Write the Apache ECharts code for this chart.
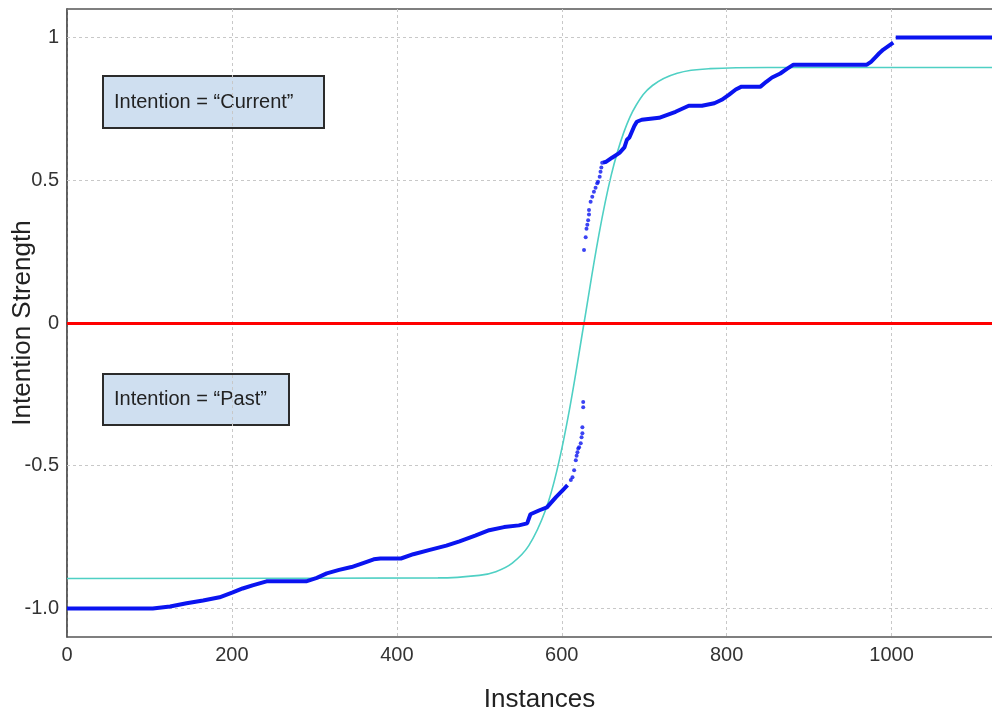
<!DOCTYPE html>
<html>
<head>
<meta charset="utf-8">
<script src="https://cdn.jsdelivr.net/npm/echarts@6/dist/echarts.min.js"></script>
<style>html,body{margin:0;padding:0;background:#fff;}#c{width:992px;height:715px;}</style>
</head>
<body>
<div id="c"></div>
<script>
// ---- data ----
var xTickLabels = [0, 200, 400, 600, 800, 1000];
var yTickLabels = [-1.0, -0.5, 0, 0.5, 1];
var gridYValues = [-1.0, -0.5, 0.5, 1];
var zeroLineY = 0;

var blueLower = [[0,-1.0],[104,-1.0],[125,-0.993],[145,-0.982],[165,-0.972],[185,-0.961],[201,-0.944],[213,-0.93],[225,-0.919],[242,-0.905],[290,-0.905],[303,-0.893],[315,-0.877],[330,-0.865],[345,-0.855],[360,-0.84],[372,-0.828],[380,-0.825],[405,-0.825],[420,-0.81],[440,-0.795],[460,-0.78],[476,-0.765],[495,-0.745],[512,-0.726],[530,-0.715],[548,-0.709],[558,-0.702],[562,-0.67],[573,-0.656],[582,-0.646],[593,-0.61],[601,-0.586],[607,-0.568]];
var blueDots = [[611,-0.55],[613,-0.54],[615,-0.516],[617,-0.481],[618,-0.465],[619,-0.453],[620,-0.44],[621,-0.435],[623,-0.421],[624,-0.40],[625,-0.386],[625,-0.365],[626,-0.295],[626,-0.277],[627,0.256],[629,0.30],[630,0.33],[631,0.344],[632,0.36],[633,0.38],[633,0.396],[635,0.425],[637,0.442],[639,0.46],[641,0.474],[643,0.49],[644,0.495],[646,0.512],[647,0.53],[648,0.545],[649,0.561]];
var blueUpper = [[650,0.562],[654,0.565],[661,0.579],[670,0.596],[676,0.615],[679,0.642],[682,0.65],[685,0.67],[688,0.69],[691,0.705],[697,0.712],[718,0.719],[738,0.74],[754,0.761],[770,0.761],[785,0.77],[794,0.782],[803,0.80],[811,0.818],[818,0.828],[841,0.828],[848,0.845],[855,0.86],[865,0.874],[873,0.89],[881,0.905],[970,0.905],[975,0.915],[980,0.93],[985,0.945],[990,0.958],[996,0.97],[1002,0.982]];
var blueTop = [[1005,1.0],[1146,1.0]];
var tealFit = [[0,-0.895],[450,-0.893],[500,-0.884],[520,-0.871],[540,-0.841],[560,-0.78],[580,-0.658],[595,-0.506],[610,-0.293],[627,0],[645,0.309],[660,0.518],[675,0.666],[690,0.762],[710,0.832],[740,0.875],[780,0.891],[850,0.895],[1146,0.895]];

var boxes = [
  {text: 'Intention = \u201CCurrent\u201D', x: 102, y: 75, w: 221, h: 52},
  {text: 'Intention = \u201CPast\u201D', x: 102, y: 373, w: 186, h: 51}
];

var FONT = 'Liberation Sans, Arial, sans-serif';
var chart = echarts.init(document.getElementById('c'), null, {renderer: 'canvas'});

function isTick(v, list) {
  for (var i = 0; i < list.length; i++) if (Math.abs(v - list[i]) < 1e-6) return true;
  return false;
}

var graphics = [];
boxes.forEach(function (b) {
  graphics.push({
    type: 'group', left: b.x, top: b.y, z: 100,
    children: [
      {type: 'rect', shape: {x: 0, y: 0, width: b.w, height: b.h},
       style: {fill: '#cfdff0', stroke: '#2b2b2b', lineWidth: 2}},
      {type: 'text', x: 11, y: b.h / 2,
       style: {text: b.text, fill: '#222', font: '20px ' + FONT, textVerticalAlign: 'middle', verticalAlign: 'middle'}}
    ]
  });
});

chart.setOption({
  animation: false,
  backgroundColor: '#fff',
  grid: {left: 67, right: -20, top: 9, bottom: 78, containLabel: false, outerBoundsMode: 'none',
         show: true, borderColor: '#555', borderWidth: 1.5, backgroundColor: 'transparent'},
  xAxis: {
    type: 'value', min: 0, max: 1146, interval: 200,
    name: 'Instances', nameLocation: 'middle', nameGap: 50, nameMoveOverlap: false,
    nameTextStyle: {fontSize: 26, color: '#222', fontFamily: FONT},
    axisLine: {show: true, lineStyle: {color: '#555', width: 1.5}},
    axisTick: {show: false},
    axisLabel: {fontSize: 20, color: '#333', fontFamily: FONT, margin: 8, showMaxLabel: false,
      formatter: function (v) { return isTick(v, xTickLabels) ? String(v) : ''; }},
    splitLine: {show: true, lineStyle: {color: '#c8c8c8', type: [3, 3], width: 1}}
  },
  yAxis: {
    type: 'value', min: -1.1, max: 1.1, interval: 0.1,
    name: 'Intention Strength', nameLocation: 'middle', nameGap: 31, nameMoveOverlap: false,
    nameTextStyle: {fontSize: 26, color: '#222', fontFamily: FONT},
    axisLine: {show: true, lineStyle: {color: '#555', width: 1.5}},
    axisTick: {show: false},
    axisLabel: {fontSize: 20, color: '#333', fontFamily: FONT, margin: 8, showMinLabel: false, showMaxLabel: false,
      formatter: function (v) {
        if (!isTick(v, yTickLabels)) return '';
        if (Math.abs(v - 1) < 1e-6) return '1';
        if (Math.abs(v) < 1e-6) return '0';
        return v.toFixed(1);
      }},
    splitLine: {show: false}
  },
  graphic: graphics,
  series: [
    {
      type: 'line', data: [], z: 1, silent: true,
      markLine: {silent: true, symbol: 'none', label: {show: false},
        lineStyle: {color: '#c8c8c8', type: [3, 3], width: 1},
        data: gridYValues.map(function (y) { return {yAxis: y}; })}
    },
    {
      name: 'fit', type: 'line', data: tealFit, smooth: 0.4, showSymbol: false, z: 3,
      lineStyle: {color: '#4fd0c4', width: 1.6}
    },
    {
      type: 'line', data: [], z: 4, silent: true,
      markLine: {silent: true, symbol: 'none', label: {show: false},
        lineStyle: {color: '#ff0000', type: 'solid', width: 3},
        data: [{yAxis: zeroLineY}]}
    },
    {
      name: 'lower', type: 'line', data: blueLower, showSymbol: false, z: 5,
      lineStyle: {color: '#0a14f0', width: 4}
    },
    {
      name: 'dots', type: 'scatter', data: blueDots, symbolSize: 4, z: 5,
      itemStyle: {color: '#0a14f0'}
    },
    {
      name: 'upper', type: 'line', data: blueUpper, showSymbol: false, z: 5,
      lineStyle: {color: '#0a14f0', width: 4}
    },
    {
      name: 'top', type: 'line', data: blueTop, showSymbol: false, z: 5,
      lineStyle: {color: '#0a14f0', width: 4}
    }
  ]
});
</script>
</body>
</html>
